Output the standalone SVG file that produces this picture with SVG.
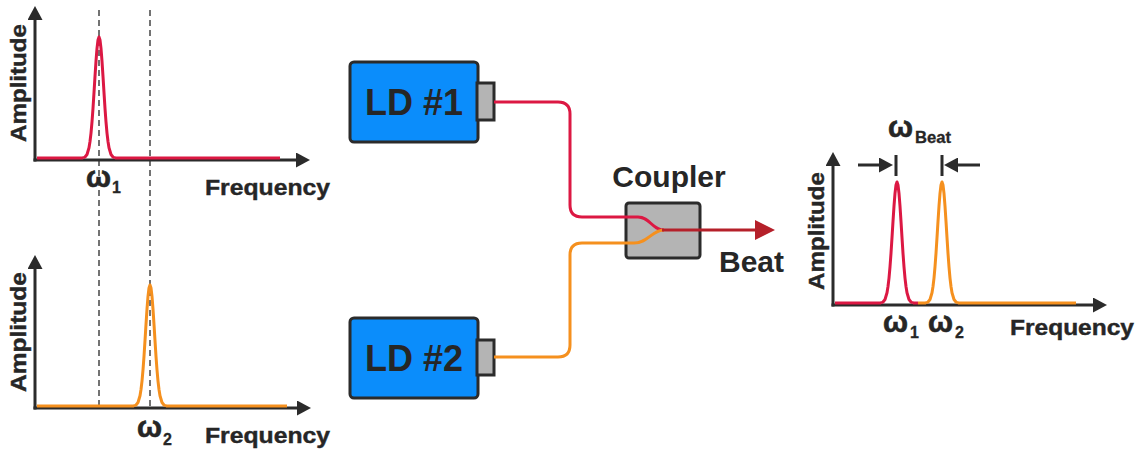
<svg xmlns="http://www.w3.org/2000/svg" width="1139" height="451" viewBox="0 0 1139 451">
<defs>
<style>
.ax{stroke:#2b2b2b;stroke-width:3;fill:none;marker-end:url(#ah)}
.dash{stroke:#444;stroke-width:1.5;stroke-dasharray:6 4;fill:none}
.t{font-family:"Liberation Sans",Arial,sans-serif;font-weight:bold;fill:#262626}
.lbl{font-size:21.5px;stroke:#262626;stroke-width:0.4}
.w{font-size:29px;stroke:#262626;stroke-width:0.6}
.sub{font-size:16px;stroke:#262626;stroke-width:0.3}
.red{stroke:#dc1843;stroke-width:3;fill:none;stroke-linejoin:round}
.org{stroke:#f5901e;stroke-width:3;fill:none;stroke-linejoin:round}
.box{stroke:#2b2b2b;stroke-width:3}
</style>
<marker id="ah" markerUnits="userSpaceOnUse" markerWidth="14" markerHeight="15" refX="1" refY="7.5" orient="auto"><path d="M0,0 L14,7.5 L0,15 Z" fill="#2b2b2b"/></marker>
<marker id="ahr" markerUnits="userSpaceOnUse" markerWidth="20" markerHeight="20" refX="1" refY="10" orient="auto"><path d="M0,0 L20,10 L0,20 Z" fill="#b5202a"/></marker>
<path id="pk" d="M-16,0 L-14,-1 L-12,-3.5 L-10,-10.2 L-9,-16.5 L-8,-24.9 L-7,-36.1 L-6,-49.7 L-5,-65.3 L-4,-81.6 L-3,-96.9 L-2,-109.6 L-1,-118 L0,-121 L1,-118 L2,-109.6 L3,-96.9 L4,-81.6 L5,-65.3 L6,-49.7 L7,-36.1 L8,-24.9 L9,-16.5 L10,-10.2 L12,-3.5 L14,-1 L16,0"/>
</defs>

<g id="plot1">
<line class="dash" x1="99" y1="10" x2="99" y2="408"/>
<line class="dash" x1="150" y1="10" x2="150" y2="408"/>
<line class="ax" x1="35" y1="161.5" x2="35" y2="19"/>
<line class="ax" x1="33.5" y1="160" x2="297" y2="160"/>
<path class="red" d="M37,158 H83 M115,158 H280"/>
<use href="#pk" x="99" y="158" class="red"/>
<text class="t lbl" transform="translate(25.5,83) rotate(-90)" text-anchor="middle" textLength="118" lengthAdjust="spacingAndGlyphs">Amplitude</text>
<text class="t lbl" x="205" y="195" textLength="125" lengthAdjust="spacingAndGlyphs">Frequency</text>
<text class="t w" x="86" y="187" textLength="25" lengthAdjust="spacingAndGlyphs">ω</text>
<text class="t sub" x="112" y="193">1</text>
</g>

<g id="plot2">
<line class="ax" x1="35" y1="409.5" x2="35" y2="268"/>
<line class="ax" x1="33.5" y1="408" x2="298" y2="408"/>
<path class="org" d="M37,406 H134 M166,406 H287"/>
<use href="#pk" x="150" y="406" class="org"/>
<text class="t lbl" transform="translate(25.5,332) rotate(-90)" text-anchor="middle" textLength="120" lengthAdjust="spacingAndGlyphs">Amplitude</text>
<text class="t lbl" x="205" y="443" textLength="125" lengthAdjust="spacingAndGlyphs">Frequency</text>
<text class="t w" x="137" y="437" textLength="25" lengthAdjust="spacingAndGlyphs">ω</text>
<text class="t sub" x="163" y="445">2</text>
</g>

<g id="ld1">
<rect class="box" x="350" y="62" width="128" height="80" rx="4" fill="#0b8dfb"/>
<rect class="box" x="477" y="83" width="17" height="37" fill="#b4b4b4" stroke-width="2.5"/>
<text class="t" x="414" y="115" font-size="36" text-anchor="middle">LD #1</text>
</g>

<g id="ld2">
<rect class="box" x="350" y="318" width="128" height="80" rx="4" fill="#0b8dfb"/>
<rect class="box" x="477" y="340" width="17" height="35" fill="#b4b4b4" stroke-width="2.5"/>
<text class="t" x="414" y="371" font-size="36" text-anchor="middle">LD #2</text>
</g>

<g id="coupler">
<rect class="box" x="626" y="203" width="74" height="55" rx="3" fill="#b4b4b4"/>
<text class="t" x="669" y="187" font-size="30" text-anchor="middle">Coupler</text>
</g>

<g id="connectors">
<path class="red" d="M494,102 H558 Q570,102 570,114 V205 Q570,217 582,217 H638 C650,217 652,230 664,230"/>
<path class="org" d="M494,357 H558 Q570,357 570,345 V255 Q570,243 582,243 H634 C648,243 652,230 664,230"/>
<line x1="662" y1="230" x2="756" y2="230" stroke="#b5202a" stroke-width="3" marker-end="url(#ahr)"/>
<text class="t" x="719" y="272" font-size="30">Beat</text>
</g>

<g id="plot3">
<line class="ax" x1="833" y1="306.5" x2="833" y2="165"/>
<line class="ax" x1="831.5" y1="305" x2="1094" y2="305"/>
<path class="red" d="M835,303 H881 M913,303 H918"/>
<use href="#pk" x="897" y="303" class="red"/>
<path class="org" d="M918,303 H926 M958,303 H1076"/>
<use href="#pk" x="942" y="303" class="org"/>
<text class="t lbl" transform="translate(823.5,231) rotate(-90)" text-anchor="middle" textLength="118" lengthAdjust="spacingAndGlyphs">Amplitude</text>
<text class="t lbl" x="1010" y="335" textLength="124" lengthAdjust="spacingAndGlyphs">Frequency</text>
<text class="t w" x="883" y="332" textLength="25" lengthAdjust="spacingAndGlyphs">ω</text>
<text class="t sub" x="910" y="338">1</text>
<text class="t w" x="928" y="332" textLength="25" lengthAdjust="spacingAndGlyphs">ω</text>
<text class="t sub" x="955" y="338">2</text>
<line class="ax" x1="858" y1="165" x2="880" y2="165"/>
<line x1="896" y1="155" x2="896" y2="176" stroke="#2b2b2b" stroke-width="3"/>
<line class="ax" x1="980" y1="165" x2="957" y2="165"/>
<line x1="942" y1="155" x2="942" y2="176" stroke="#2b2b2b" stroke-width="3"/>
<text class="t w" x="888" y="137" textLength="25" lengthAdjust="spacingAndGlyphs">ω</text>
<text class="t sub" x="915" y="143" textLength="36" lengthAdjust="spacingAndGlyphs">Beat</text>
</g>
</svg>
